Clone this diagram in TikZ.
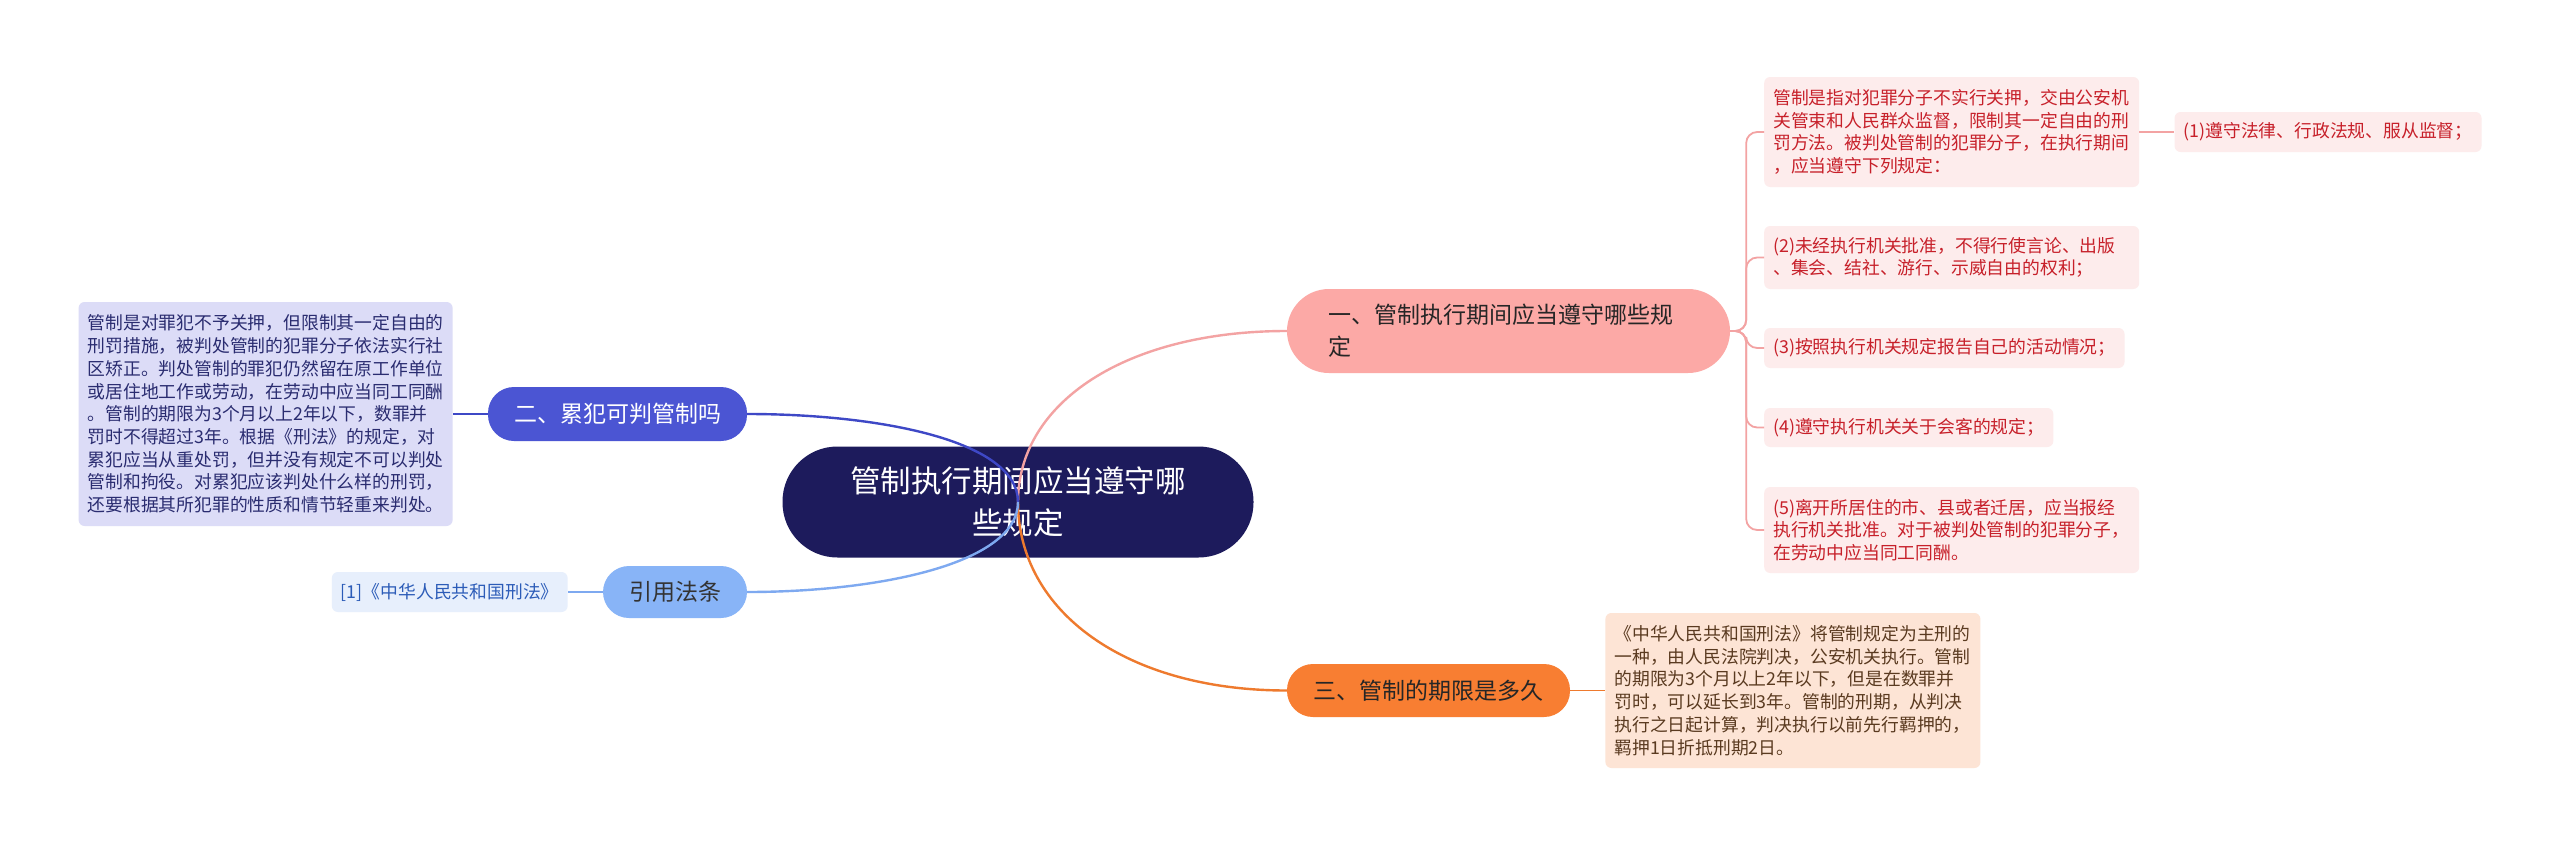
\documentclass[tikz,border=0pt]{standalone}
\usepackage{fontspec}
\setmainfont{Noto Sans CJK SC}
\usepackage{xcolor}
\usetikzlibrary{positioning,calc}

\definecolor{rootnavy}{HTML}{1D1B5C}
\definecolor{salmon}{HTML}{FCA9A6}
\definecolor{salmonline}{HTML}{F3A3A3}
\definecolor{indigo}{HTML}{4B55D3}
\definecolor{indigoline}{HTML}{3E48C6}
\definecolor{skyblue}{HTML}{88B4F7}
\definecolor{skyline}{HTML}{7EA9F0}
\definecolor{tangerine}{HTML}{F87E32}
\definecolor{tangline}{HTML}{EE7A2E}
\definecolor{leafpink}{HTML}{FDECEC}
\definecolor{leafred}{HTML}{C7202A}
\definecolor{leaflav}{HTML}{DCDCF7}
\definecolor{lavtext}{HTML}{2A2C70}
\definecolor{leafsky}{HTML}{E7EFFC}
\definecolor{skytext}{HTML}{2C5CB8}
\definecolor{leafpeach}{HTML}{FDE4D5}
\definecolor{peachtext}{HTML}{5A3A20}

\begin{document}
\begin{tikzpicture}[auto, x=1pt, y=-1pt]
        % Style definitions
        \tikzset{
            topic/.style={fill=rootnavy, text=white, rounded corners=55pt, minimum width=471pt, minimum height=111pt, align=center, font=\fontsize{30.5}{42}\selectfont},
            branch/.style={rounded corners=26pt, minimum height=54pt, inner xsep=0pt, align=center, font=\fontsize{23}{32}\selectfont},
            leaf/.style={rounded corners=6pt, inner xsep=9pt, inner ysep=0pt, align=left, font=\fontsize{17.8}{22.7}\selectfont},
            pinkleaf/.style={leaf, fill=leafpink, text=leafred, anchor=west},
            link/.style={line width=2.4pt},
            twig/.style={line width=1.8pt, rounded corners=11pt}
        }
        \fill [white] (0,0) rectangle (2560,846);
        \useasboundingbox (0,0) rectangle (2560,846);

        % Nodes
        \node [topic] (root) at (1018,502) {管制执行期间应当遵守哪\\些规定};
        \node [branch, fill=salmon, text=black!85, rounded corners=42pt, minimum height=84pt, inner xsep=41pt, text width=361pt, align=left] (b1) at (1508.5,331) {一、管制执行期间应当遵守哪些规\\定};
        \node [branch, fill=indigo, text=white, minimum width=259pt] (b2) at (617.5,414) {二、累犯可判管制吗};
        \node [branch, fill=skyblue, text=black!80, minimum width=144pt, minimum height=52pt] (b4) at (675,592) {引用法条};
        \node [branch, fill=tangerine, text=black!85, minimum width=283pt, minimum height=53pt] (b3) at (1428.5,690.5) {三、管制的期限是多久};

        \node [leaf, fill=leaflav, text=lavtext, minimum height=224pt, left=35pt of b2] (ll) {管制是对罪犯不予关押，但限制其一定自由的\\
刑罚措施，被判处管制的犯罪分子依法实行社\\
区矫正。判处管制的罪犯仍然留在原工作单位\\
或居住地工作或劳动，在劳动中应当同工同酬\\
。管制的期限为3个月以上2年以下，数罪并\\
罚时不得超过3年。根据《刑法》的规定，对\\
累犯应当从重处罚，但并没有规定不可以判处\\
管制和拘役。对累犯应该判处什么样的刑罚，\\
还要根据其所犯罪的性质和情节轻重来判处。};
        \node [leaf, fill=leafsky, text=skytext, minimum height=40pt, left=35pt of b4] (lc) {[1]《中华人民共和国刑法》};

        \node [pinkleaf, text width=357pt, minimum height=110pt] (la) at (1764,132) {管制是指对犯罪分子不实行关押，交由公安机\\
关管束和人民群众监督，限制其一定自由的刑\\
罚方法。被判处管制的犯罪分子，在执行期间\\
，应当遵守下列规定：};
        \node [pinkleaf, minimum height=40pt, right=35pt of la] (la1) {(1)遵守法律、行政法规、服从监督；};
        \node [pinkleaf, text width=357pt, minimum height=63pt] (lb) at (1764,257.5) {(2)未经执行机关批准，不得行使言论、出版\\
、集会、结社、游行、示威自由的权利；};
        \node [pinkleaf, minimum height=40pt] (lc3) at (1764,348) {(3)按照执行机关规定报告自己的活动情况；};
        \node [pinkleaf, minimum height=39pt] (ld) at (1764,427.5) {(4)遵守执行机关关于会客的规定；};
        \node [pinkleaf, text width=357pt, minimum height=86pt] (le) at (1764,530) {(5)离开所居住的市、县或者迁居，应当报经\\
执行机关批准。对于被判处管制的犯罪分子，\\
在劳动中应当同工同酬。};

        \node [leaf, fill=leafpeach, text=peachtext, text width=357pt, minimum height=155pt, right=35pt of b3] (lf) {《中华人民共和国刑法》将管制规定为主刑的\\
一种，由人民法院判决，公安机关执行。管制\\
的期限为3个月以上2年以下，但是在数罪并\\
罚时，可以延长到3年。管制的刑期，从判决\\
执行之日起计算，判决执行以前先行羁押的，\\
羁押1日折抵刑期2日。};

        % Connections
        \draw [link, salmonline] (root.center) .. controls +(0,-100) and +(-160,0) .. (b1.west);
        \draw [link, tangline] (root.center) .. controls +(0,110) and +(-160,0) .. (b3.west);
        \draw [link, indigoline] (root.center) .. controls +(0,-62) and +(130,0) .. (b2.east);
        \draw [link, skyline] (root.center) .. controls +(0,62) and +(130,0) .. (b4.east);

        \draw [twig, indigoline] (b2.west) -- (ll.east);
        \draw [twig, skyline] (b4.west) -- (lc.east);
        \draw [twig, tangline] (b3.east) -- (lf.west);

        % Fork to the rules
        \coordinate (fork) at ($(b1.east)+(16,0)$);
        \draw [twig, salmonline] (b1.east) -- (fork) |- (la.west);
        \draw [twig, salmonline] (b1.east) -- (fork) |- (lb.west);
        \draw [twig, salmonline] (b1.east) -- (fork) |- (lc3.west);
        \draw [twig, salmonline] (b1.east) -- (fork) |- (ld.west);
        \draw [twig, salmonline] (b1.east) -- (fork) |- (le.west);
        \draw [twig, salmonline] (la.east) -- (la1.west);
    \end{tikzpicture}
\end{document}
